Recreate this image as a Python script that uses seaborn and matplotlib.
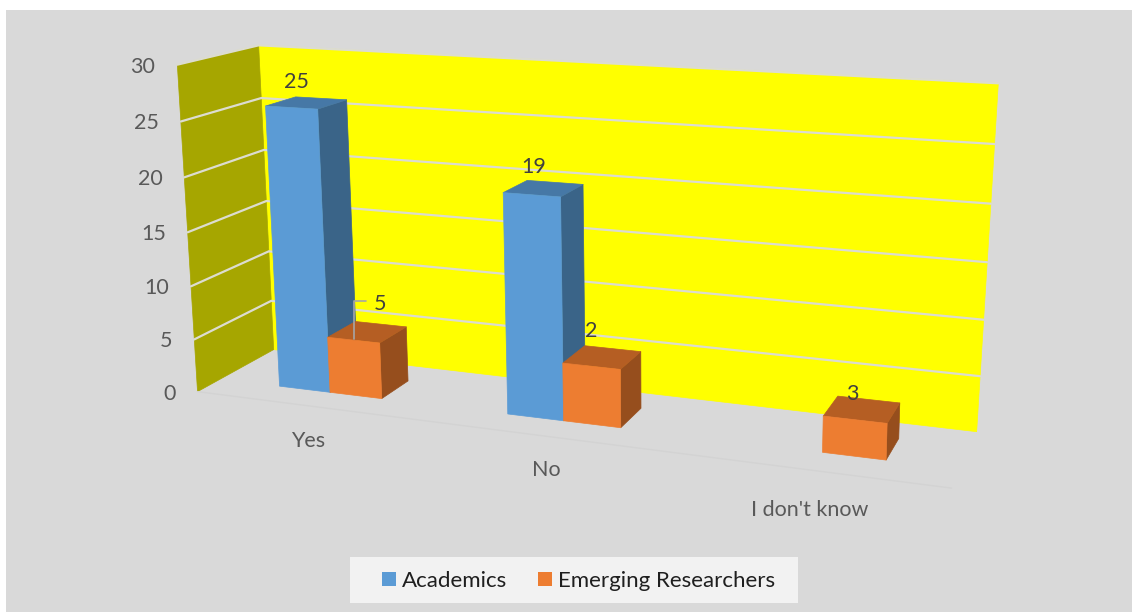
import numpy as np
import pandas as pd
import matplotlib
matplotlib.use("Agg")
import matplotlib.pyplot as plt
from matplotlib.patches import Patch, Polygon, Rectangle
import seaborn as sns

# ---- data ----
categories = ["Yes", "No", "I don't know"]
series_names = ["Academics", "Emerging Researchers"]
academics = [25, 19, 0]
emerging = [5, 5, 3]              # drawn bar heights
academics_labels = ["25", "19", ""]
emerging_labels = ["5", "2", "3"]  # printed labels (the middle bar is labelled 2)
value_ticks = [0, 5, 10, 15, 20, 25, 30]

# ---- layout ----
W, H = 1132, 612
BAR_LEFT, BAR_WIDTH = 0.27, 0.23
DEPTH_FRONT, DEPTH_BACK = 0.30, 0.70
YMAX = 30.0

# calibration of the oblique view: (x, depth, z) -> pixel
calib_walls = [
    ((0, 1, 30), (258, 46)), ((0, 1, 25), (260, 97)), ((0, 1, 20), (264, 149)),
    ((0, 1, 15), (267, 201)), ((0, 1, 10), (270, 252)), ((0, 1, 5), (272, 301)),
    ((0, 1, 0), (273, 350)),
    ((3, 1, 30), (998, 84)), ((3, 1, 25), (995, 143)), ((3, 1, 20), (991, 203)),
    ((3, 1, 15), (987, 263)), ((3, 1, 10), (984, 320)), ((3, 1, 5), (980, 377)),
    ((3, 1, 0), (976, 431)),
    ((0, 0, 30), (178, 66)), ((0, 0, 25), (181, 121)), ((0, 0, 20), (184, 177)),
    ((0, 0, 10), (191, 286)), ((0, 0, 5), (194, 340)), ((0, 0, 0), (197, 391)),
    ((3, 0, 0), (952, 488)),
]
calib_bars = [
    ((0.27, .3, 25), (264, 107)), ((0.5, .3, 25), (318, 110)), ((0.5, .7, 25), (347, 101)),
    ((0.27, .7, 25), (295, 97)),
    ((0.27, .3, 0), (277, 386)), ((0.5, .3, 0), (330, 392)),
    ((0.5, .3, 5), (328, 340)), ((0.73, .3, 5), (382, 346)), ((0.73, .7, 5), (408, 330)),
    ((0.5, .7, 5), (353, 325)),
    ((0.73, .3, 0), (383, 398)), ((0.73, .7, 0), (409, 381)),
    ((1.27, .3, 19), (502, 192)), ((1.5, .3, 19), (562, 197)), ((1.5, .7, 19), (584, 184)),
    ((1.27, .7, 19), (527, 179)),
    ((1.27, .3, 0), (505, 414)), ((1.5, .3, 0), (563, 421)),
    ((1.5, .3, 5), (563, 356)), ((1.73, .3, 5), (623, 362)), ((1.73, .7, 5), (642, 345)),
    ((1.5, .7, 5), (585, 339)),
    ((1.73, .3, 0), (623, 428)), ((1.73, .7, 0), (642, 408)),
    ((2.5, .3, 3), (822, 419)), ((2.73, .3, 3), (887, 427)), ((2.73, .7, 3), (899, 407)),
    ((2.5, .7, 3), (836, 399)),
    ((2.5, .3, 0), (821, 453)), ((2.73, .3, 0), (887, 461)), ((2.73, .7, 0), (898, 439)),
]


def fit_camera(pairs):
    rows, rhs = [], []
    for (x, d, z), (u, v) in pairs:
        rows.append([x, d, z, 1, 0, 0, 0, 0, -u * x, -u * d, -u * z]); rhs.append(u)
        rows.append([0, 0, 0, 0, x, d, z, 1, -v * x, -v * d, -v * z]); rhs.append(v)
    p = np.linalg.lstsq(np.array(rows, float), np.array(rhs, float), rcond=None)[0]
    return np.append(p, 1.0).reshape(3, 4)


CAM_WALLS = fit_camera(calib_walls)
CAM_BARS = fit_camera(calib_bars)


def project(x, d, z, cam=CAM_WALLS):
    q = cam @ np.array([x, d, z, 1.0])
    return q[0] / q[2], q[1] / q[2]


sns.set_theme(style="white")
plt.rcParams["font.family"] = ["Lato", "DejaVu Sans"]

BG = "#d9d9d9"
TICK = "#595959"
LABEL = "#404040"
palette = sns.color_palette(["#5b9bd5", "#ed7d31"])
tops = ["#4678a6", "#b55e23"]
sides = ["#3a6488", "#964e1d"]

frame = pd.DataFrame({"category": categories, series_names[0]: academics, series_names[1]: emerging})

fig = plt.figure(figsize=(W / 100, H / 100), dpi=100, facecolor="white")
ax = fig.add_axes([0, 0, 1, 1])
ax.set_xlim(0, W)
ax.set_ylim(H, 0)
ax.axis("off")
ax.add_patch(Rectangle((6, 10), W - 6, H - 10, fc=BG, ec="none", zorder=0))


def face(pts, color, z=1, cam=CAM_WALLS):
    ax.add_patch(Polygon([project(*p, cam=cam) for p in pts], closed=True, fc=color,
                         ec=color, lw=0.5, zorder=z, joinstyle="round"))


n = len(categories)
# walls
face([(0, 1, 0), (n, 1, 0), (n, 1, YMAX), (0, 1, YMAX)], "#ffff00", 1)
face([(0, 0, 0), (0, 1, 0), (0, 1, YMAX), (0, 0, YMAX)], "#a6a600", 1)
# gridlines
for t in value_ticks[1:]:
    pts = [project(0, 0, t), project(0, 1, t), project(n, 1, t)]
    ax.plot(*zip(*pts), color="#dcdcd0", lw=1.6, zorder=2, solid_joinstyle="miter")
# floor front edge
ax.plot(*zip(project(0, 0, 0), project(n, 0, 0)), color="#d3d3d3", lw=1.0, zorder=2)


def bar(c, s, v, zbase):
    x0 = c + BAR_LEFT + s * BAR_WIDTH
    x1 = x0 + BAR_WIDTH
    d0, d1 = DEPTH_FRONT, DEPTH_BACK
    face([(x1, d0, 0), (x1, d1, 0), (x1, d1, v), (x1, d0, v)], sides[s], zbase, CAM_BARS)
    face([(x0, d0, v), (x1, d0, v), (x1, d1, v), (x0, d1, v)], tops[s], zbase, CAM_BARS)
    face([(x0, d0, 0), (x1, d0, 0), (x1, d0, v), (x0, d0, v)], palette[s], zbase + .1, CAM_BARS)
    return project((x0 + x1) / 2, (d0 + d1) / 2, v, CAM_BARS)


label_shift = {(1, 0): (13, -28), (1, 1): (-11, -26), (1, 2): (-10, -15)}
for s, (vals, labs) in enumerate([(academics, academics_labels), (emerging, emerging_labels)]):
    for c, (v, lab) in enumerate(zip(vals, labs)):
        if v <= 0:
            continue
        tx, ty = bar(c, s, v, 3 + s)
        dx, dy = label_shift.get((s, c), (-10, -21))
        ax.text(tx + dx, ty + dy, lab, color=LABEL, fontsize=15.5, ha="center", va="center", zorder=8)

# leader line of the "5" label
tx, ty = project(0.5 + BAR_WIDTH / 2, 0.5, emerging[0], CAM_BARS)
ax.plot([tx - 13, tx - 13, tx - 1], [ty + 7, ty - 31, ty - 31], color="#a6a6a6", lw=1.2, zorder=7)

# value axis labels
for t in value_ticks:
    px, py = project(0, 0, t)
    ax.text(px - 22, py + 2, str(t), color=TICK, fontsize=15.5, ha="right", va="center", zorder=8)

# category labels
cat_offsets = [(0, 35), (1, 34), (1, 40)]
for c, name in enumerate(categories):
    px, py = project(c + 0.5, 0, 0)
    ax.text(px + cat_offsets[c][0], py + cat_offsets[c][1], name, color=TICK, fontsize=15.5,
            ha="center", va="center", zorder=8)

# legend
ax.add_patch(Rectangle((350, 557), 448, 46, fc="#f2f2f2", ec="none", zorder=8))
handles = [Patch(fc=palette[i], ec="none", label=series_names[i]) for i in range(2)]
leg = ax.legend(handles=handles, loc="center", bbox_to_anchor=(578.5 / W, 1 - 581 / H), ncol=2,
                frameon=False, fontsize=16, handlelength=0.63, handleheight=0.63,
                handletextpad=0.27, columnspacing=1.4, borderpad=0, labelcolor="#1f1f1f")
leg.set_zorder(9)

fig.savefig("out.png", dpi=100, facecolor="white")
